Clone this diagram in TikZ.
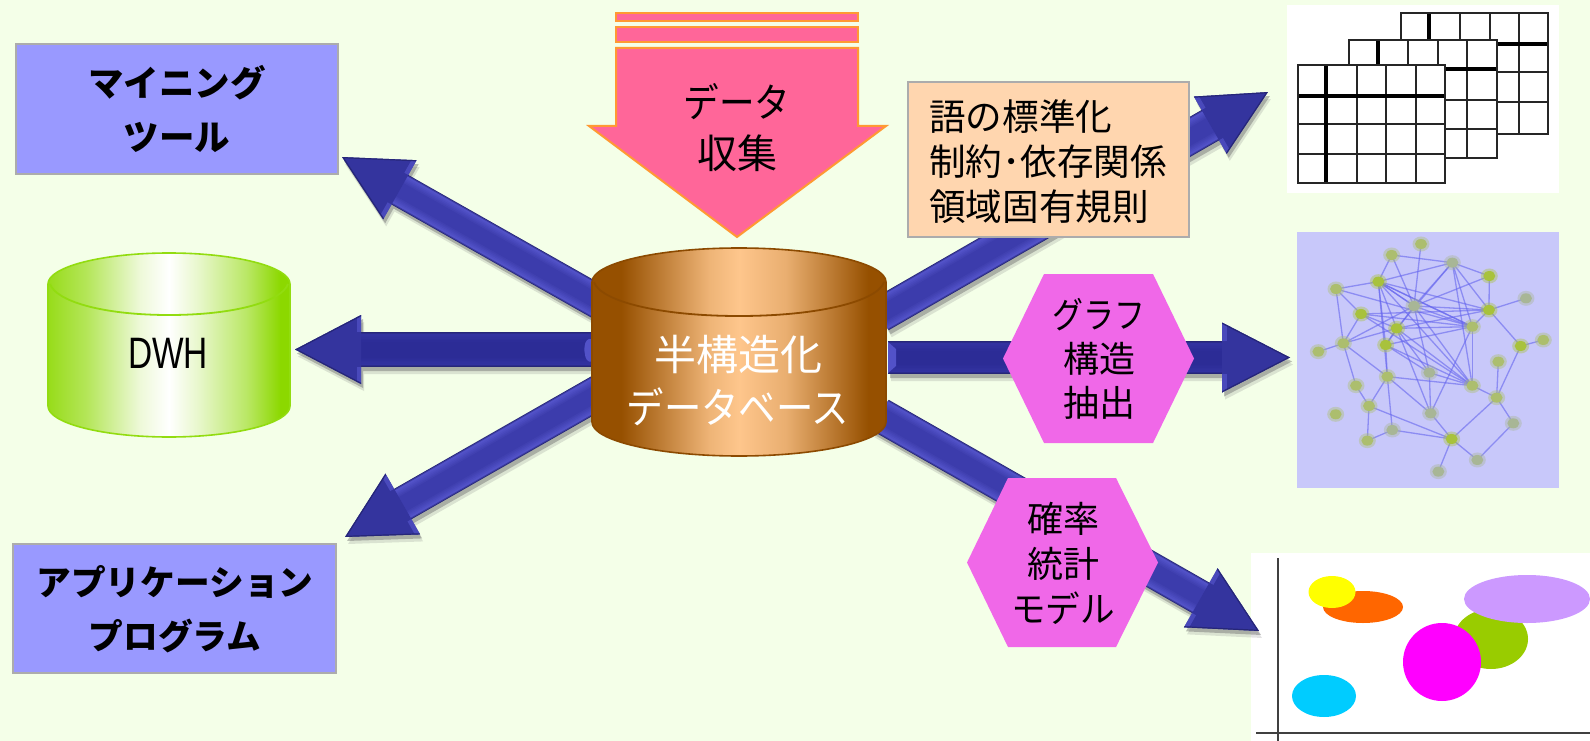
\documentclass[tikz,border=0pt]{standalone}
\usepackage{fontspec}
\setmainfont{Noto Sans CJK JP}
\newfontfamily\latinfont[FakeStretch=0.76]{Liberation Sans}
\newfontfamily\kanaA[FakeStretch=0.89]{Noto Sans CJK JP}
\newfontfamily\kanaB[FakeStretch=0.86]{Noto Sans CJK JP}
\newfontfamily\kanaC[FakeStretch=0.96]{Noto Sans CJK JP}
\usetikzlibrary{calc,shapes.geometric}

\definecolor{paper}{RGB}{244,255,232}
\definecolor{panelblue}{RGB}{153,153,255}
\definecolor{panelgrey}{RGB}{172,172,172}
\definecolor{peach}{RGB}{255,214,175}
\definecolor{hexpink}{RGB}{240,104,232}
\definecolor{chute}{RGB}{255,102,153}
\definecolor{chuteline}{RGB}{255,153,51}
\definecolor{arrowedge}{RGB}{38,38,120}
\definecolor{arrowlight}{RGB}{82,82,200}
\definecolor{arrowmid}{RGB}{60,60,172}
\definecolor{arrowdeep}{RGB}{44,44,150}
\definecolor{arrowsoft}{RGB}{50,50,160}
\definecolor{arrowhead}{RGB}{52,52,158}
\definecolor{copperdark}{RGB}{150,80,0}
\definecolor{copperlit}{RGB}{254,198,140}
\definecolor{copperline}{RGB}{140,74,0}
\definecolor{limedark}{RGB}{140,216,0}
\definecolor{limeline}{RGB}{146,220,16}
\definecolor{netback}{RGB}{200,200,250}
\definecolor{netedge}{RGB}{100,100,238}
\definecolor{netnodeA}{RGB}{168,194,60}
\definecolor{netnodeB}{RGB}{172,190,110}
\definecolor{netnodeC}{RGB}{168,182,150}
\definecolor{blobmagenta}{RGB}{255,0,255}
\definecolor{blobyellow}{RGB}{255,255,0}
\definecolor{bloborange}{RGB}{255,102,0}
\definecolor{blobgreen}{RGB}{153,204,0}
\definecolor{blobviolet}{RGB}{204,153,255}
\definecolor{blobcyan}{RGB}{0,204,255}

\pgfdeclarehorizontalshading{coppertube}{100bp}{
  color(0bp)=(copperdark); color(25bp)=(copperdark); color(30bp)=(copperdark);
  color(45bp)=(copperlit!85!copperdark); color(50bp)=(copperlit);
  color(58bp)=(copperlit!80!copperdark); color(72bp)=(copperdark); color(100bp)=(copperdark)}
\pgfdeclarehorizontalshading{limetube}{100bp}{
  color(0bp)=(limedark); color(25bp)=(limedark!90!white); color(33bp)=(limedark!65!white);
  color(44bp)=(limedark!15!white); color(50bp)=(white); color(56bp)=(limedark!20!white);
  color(66bp)=(limedark!60!white); color(73bp)=(limedark); color(100bp)=(limedark)}

\tikzset{
  panel/.style={draw=panelgrey,line width=2pt,fill=panelblue},
  notebox/.style={draw=panelgrey,line width=2pt,fill=peach},
  hexagon/.style={fill=hexpink},
  chuteshape/.style={fill=chute,draw=chuteline,line width=2pt,line join=miter},
  label/.style={inner sep=0pt,align=center,font=\fontsize{36}{45}\selectfont},
  boldlabel/.style={inner sep=0pt,align=center,font=\fontsize{35.5}{54}\selectfont\bfseries},
  netnode/.style={ellipse,inner sep=0pt,minimum width=12pt,minimum height=10pt},
  nethalo/.style={ellipse,inner sep=0pt,minimum width=17pt,minimum height=15pt,opacity=.4},
  blob/.style={ellipse,inner sep=0pt,outer sep=0pt},
  sheetline/.style={draw=black!85,line width=2.3pt},
  sheetbold/.style={draw=black,line width=4.4pt}
}

% Block arrow from one named point to another: half shaft, half head, head length,
% shaft centre colour, shaft highlight colour.
\newcommand\blockarrow[7]{%
  \path let \p1=($(#2)-(#1)$),\n1={atan2(\y1,\x1)},\n2={veclen(\x1,\y1)} in
    \pgfextra{\pgfmathsetmacro\tmpang{\n1}\pgfmathsetmacro\tmplen{\n2}%
      \xdef\arrang{\tmpang}\xdef\arrlen{\tmplen}};
  \pgfmathsetmacro\hb{\arrlen-#5}%
  \def\silhouette{(0pt,#3pt) -- (\hb pt,#3pt) -- (\hb pt,#4pt) -- (\arrlen pt,0pt)
    -- (\hb pt,-#4pt) -- (\hb pt,-#3pt) -- (0pt,-#3pt) -- cycle}%
  \begin{scope}[shift={($(#1)+(3,7)$)},rotate=\arrang]
    \fill[black!50,opacity=.22] \silhouette;
  \end{scope}
  \begin{scope}[shift={($(#1)+(2,4)$)},rotate=\arrang]
    \fill[black!60,opacity=.42] \silhouette;
  \end{scope}
  \begin{scope}[shift={(#1)},rotate=\arrang]
    \coordinate (shaftbase) at (0pt,0pt);
    \coordinate (shaftend) at (\hb pt+1pt,0pt);
    \draw[arrowedge,line width=2*#3 pt] (shaftbase) -- (shaftend);
    \draw[#7!50!arrowedge,line width=2*#3 pt-1.5pt] (shaftbase) -- (shaftend);
    \draw[#7,line width=2*#3 pt-3.5pt] (shaftbase) -- (shaftend);
    \draw[#7!80!#6,line width=2*#3 pt-7pt] (shaftbase) -- (shaftend);
    \draw[#7!60!#6,line width=2*#3 pt-10pt] (shaftbase) -- (shaftend);
    \draw[#7!40!#6,line width=2*#3 pt-13pt] (shaftbase) -- (shaftend);
    \draw[#7!20!#6,line width=2*#3 pt-16pt] (shaftbase) -- (shaftend);
    \draw[#6,line width=2*#3 pt-19pt] (shaftbase) -- (shaftend);
    \fill[arrowhead] (\hb pt,#4pt) -- (\arrlen pt,0pt) -- (\hb pt,-#4pt) -- cycle;
    \begin{scope}
      \clip (\hb pt,#4pt) -- (\arrlen pt,0pt) -- (\hb pt,-#4pt) -- cycle;
      \draw[arrowlight,line width=9pt,opacity=.7] (\hb pt,#3pt) -- (\hb pt,#4pt);
      \draw[arrowlight,line width=9pt,opacity=.7] (\hb pt,-#3pt) -- (\hb pt,-#4pt);
      \draw[arrowedge,line width=2.4pt] (\hb pt,#4pt) -- (\arrlen pt,0pt) -- (\hb pt,-#4pt);
    \end{scope}
  \end{scope}
}

% Cylinder side and lid: left x, right x, lid centre y, base centre y, vertical radius
\newcommand\tube[7]{%
  \pgfmathsetmacro\xm{(#1+#2)/2}%
  \pgfmathsetmacro\rx{(#2-#1)/2}%
  \pgfmathsetmacro\kx{.5523*\rx}%
  \pgfmathsetmacro\ky{.5523*#5}%
  \shade[shading=#6,draw=#7,line width=1.6pt]
    (#1,#3) .. controls (#1,#3-\ky) and (\xm-\kx,#3-#5) .. (\xm,#3-#5)
    .. controls (\xm+\kx,#3-#5) and (#2,#3-\ky) .. (#2,#3)
    -- (#2,#4)
    .. controls (#2,#4+\ky) and (\xm+\kx,#4+#5) .. (\xm,#4+#5)
    .. controls (\xm-\kx,#4+#5) and (#1,#4+\ky) .. (#1,#4) -- cycle;
  \draw[#7,line width=1.8pt]
    (#1+2,#3) .. controls (#1+8,#3+\ky) and (\xm-\kx,#3+#5) .. (\xm,#3+#5)
    .. controls (\xm+\kx,#3+#5) and (#2-8,#3+\ky) .. (#2-2,#3);
}

% Ruled sheet: left, heavy column, inner columns, right, top, heavy row, inner rows, bottom
\newcommand\gridsheet[8]{%
  \fill[white] (#1,#5) rectangle (#4,#8);
  \foreach \gx in {#3} {\draw[sheetline] (\gx,#5) -- (\gx,#8);}
  \foreach \gy in {#7} {\draw[sheetline] (#1,\gy) -- (#4,\gy);}
  \draw[sheetbold] (#2,#5) -- (#2,#8);
  \draw[sheetbold] (#1,#6) -- (#4,#6);
  \draw[sheetline] (#1,#5) rectangle (#4,#8);
}

\begin{document}
\begin{tikzpicture}[x=1pt,y=-1pt]
\useasboundingbox (0,0) rectangle (1590,741);
\fill[paper] (0,0) rectangle (1590,741);

% Picture panels on the right
\fill[white] (1287,5) rectangle (1559,193);
\gridsheet{1401}{1429}{1460,1490,1519}{1548}{13}{44}{72,102}{134}
\gridsheet{1349}{1378}{1408,1438,1467}{1497}{40}{69}{100,129}{158}
\gridsheet{1298}{1326}{1357,1386,1416}{1445}{65}{96}{124,154}{183}

\fill[netback] (1297,232) rectangle (1559,488);
\begin{scope}[shift={(1270,220)},x=.3333pt,y=-.3333pt]
  \def\netpoints{a/453/72/B,b/365/105/B,c/547/128/C,d/325/185/A,e/198/207/B,f/658/168/A,
    g/768/235/C,h/657/270/A,i/432/258/C,j/273/282/A,k/380/325/A,l/607/320/B,m/220/370/B,
    n/347/375/A,o/145/395/B,p/752/378/A,q/820/360/B,r/685/425/B,s/478/458/C,t/352/470/B,
    u/607/497/B,v/258/497/B,w/680/533/B,x/297/558/B,y/197/583/B,z/482/580/C,aa/367/630/C,
    ab/730/610/C,ac/292/662/B,ad/545/657/A,ae/622/720/C,af/505/755/C}
  \foreach \pn/\px/\py/\pc in \netpoints {\coordinate (\pn) at (\px,\py);}
  \foreach \ea/\eb in {a/i,b/d,b/i,c/i,c/d,c/u,c/l,b/c,d/e,d/i,d/l,d/h,d/u,d/t,e/j,e/m,e/l,
    j/l,j/k,j/m,k/u,k/l,k/m,i/u,i/h,i/s,i/m,f/c,f/h,f/i,h/g,h/l,h/p,p/q,p/w,r/w,l/u,u/w,
    w/ad,w/ab,ab/ae,ad/ae,ad/af,ad/x,ad/z,ad/aa,m/o,m/t,m/v,v/x,x/ac,x/t,t/n,t/z,t/u,t/aa,
    n/d,n/k,n/u,n/s,s/z,s/u,z/l,aa/ac,k/s,i/l,j/h,d/k,j/u,k/z,c/h,i/n,i/d,l/d,k/h,n/l,k/c}
    {\draw[netedge,line width=1.3pt,opacity=.6] (\ea) -- (\eb);}
  \foreach \pn/\px/\py/\pc in \netpoints {
    \node[nethalo,fill=netnode\pc] at (\px,\py) {};
    \node[netnode,fill=netnode\pc] (\pn) at (\px,\py) {};
  }
\end{scope}

\fill[white] (1251,553) rectangle (1590,741);
\coordinate (axisytop) at (1278,558);
\coordinate (axisybot) at (1278,741);
\coordinate (axisxleft) at (1256,733);
\coordinate (axisxright) at (1590,733);
\draw[black!75,line width=2.2pt] (axisytop) -- (axisybot);
\draw[black!75,line width=2.2pt] (axisxleft) -- (axisxright);
\node[blob,fill=bloborange,minimum width=80pt,minimum height=32pt] (ellorange) at (1363,607) {};
\node[blob,fill=blobyellow,minimum width=47pt,minimum height=32pt] (ellyellow) at (1332,592) {};
\node[blob,fill=blobgreen,minimum width=74pt,minimum height=60pt] (ellgreen) at (1491,639) {};
\node[blob,fill=blobviolet,minimum width=126pt,minimum height=48pt] (ellviolet) at (1527,599) {};
\node[blob,fill=blobmagenta,minimum width=78pt,minimum height=78pt] (ellmagenta) at (1442,662) {};
\node[blob,fill=blobcyan,minimum width=64pt,minimum height=42pt] (ellcyan) at (1324,696) {};

% Block arrows leaving the central store
\coordinate (startmine) at (600,303);
\coordinate (tipmine) at (342,157);
\coordinate (startdwh) at (592,349.5);
\coordinate (tipdwh) at (295,349.5);
\coordinate (startapp) at (600,391.5);
\coordinate (tipapp) at (345,537);
\coordinate (startrule) at (880,315);
\coordinate (tiprule) at (1268,92);
\coordinate (startgraph) at (888,357.5);
\coordinate (tipgraph) at (1290,357.5);
\coordinate (startprob) at (880,415);
\coordinate (tipprob) at (1259,631);
\blockarrow{startmine}{tipmine}{17}{34}{66.5}{arrowmid}{arrowlight}
\blockarrow{startdwh}{tipdwh}{17.5}{34.5}{66}{arrowdeep}{arrowsoft}
\blockarrow{startapp}{tipapp}{17.5}{35}{66.5}{arrowmid}{arrowlight}
\blockarrow{startrule}{tiprule}{17.5}{33}{66.5}{arrowmid}{arrowlight}
\blockarrow{startgraph}{tipgraph}{16.5}{35}{68}{arrowdeep}{arrowsoft}
\blockarrow{startprob}{tipprob}{17.5}{34}{67}{arrowmid}{arrowlight}
\fill[arrowlight,rounded corners=3pt] (592,338) -- (586,340) -- (584,349) -- (586,360) -- (592,363) -- cycle;
\fill[arrowlight] (888,342) -- (896,349) -- (896,366) -- (888,373) -- cycle;

% Incoming data chute
\draw[chuteshape] (616,13) rectangle (858,21);
\draw[chuteshape] (616,27) rectangle (858,42);
\draw[chuteshape] (616,48) -- (858,48) -- (858,126) -- (886,126) -- (737,237) -- (589,126) -- (616,126) -- cycle;
\node[label,font=\fontsize{40}{51}\selectfont] (datain) at (737,128) {{\kanaA データ}\\収集};

% Stores
\tube{592}{886}{282}{422}{34}{coppertube}{copperline}
\node[label,text=white,font=\fontsize{42}{53}\selectfont] (store) at (738,381) {半構造化\\{\kanaA データベース}};
\tube{48}{290}{284}{406}{31}{limetube}{limeline}
\node[inner sep=0pt,font=\fontsize{44}{50}\latinfont] (dwh) at (168,353) {DWH};

% Labelled panels
\draw[panel] (16,44) rectangle (338,174);
\node[boldlabel] (mining) at (177,109) {マイニング\\ツール};
\draw[panel] (13,544) rectangle (336,673);
\node[boldlabel,font=\fontsize{34.7}{54}\selectfont\bfseries] (apps) at (175,609) {アプリケーション\\プログラム};

\draw[notebox] (908,82) rectangle (1189,237);
\node[label,align=left,anchor=west,font=\fontsize{36.6}{45}\selectfont] (rules) at (929,162) {語の標準化\\制約･依存関係\\領域固有規則};

\fill[hexagon] (1003,358.5) -- (1044,274) -- (1153,274) -- (1194,358.5) -- (1153,443) -- (1044,443) -- cycle;
\node[label,font=\fontsize{36}{44}\selectfont] (graphlabel) at (1099,359) {{\kanaB グラフ}\\構造\\抽出};
\fill[hexagon] (967,562.5) -- (1008,478) -- (1116,478) -- (1158,562.5) -- (1116,647) -- (1008,647) -- cycle;
\node[label] (problabel) at (1063,563) {確率\\統計\\{\kanaC モデル}};
\end{tikzpicture}
\end{document}
